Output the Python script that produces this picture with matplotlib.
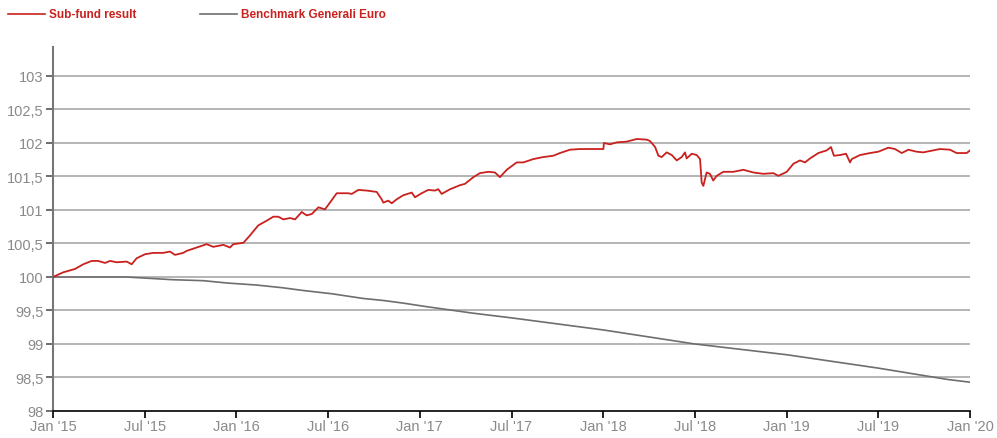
import matplotlib
matplotlib.use('Agg')
import matplotlib.pyplot as plt
from matplotlib.lines import Line2D

# time in decimal years
fund_t = [2015.000, 2015.056, 2015.120, 2015.165, 2015.211, 2015.245, 2015.284, 2015.311,
          2015.347, 2015.402, 2015.429, 2015.456, 2015.502, 2015.547, 2015.601, 2015.638,
          2015.665, 2015.710, 2015.729, 2015.784, 2015.838, 2015.874, 2015.929, 2015.965,
          2015.983, 2016.038, 2016.074, 2016.119, 2016.165, 2016.201, 2016.228, 2016.256,
          2016.292, 2016.320, 2016.356, 2016.383, 2016.411, 2016.447, 2016.483, 2016.510,
          2016.547, 2016.583, 2016.610, 2016.629, 2016.665, 2016.710, 2016.765, 2016.792,
          2016.801, 2016.828, 2016.847, 2016.874, 2016.910, 2016.956, 2016.974, 2017.010,
          2017.046, 2017.083, 2017.101, 2017.119, 2017.165, 2017.219, 2017.246, 2017.292,
          2017.328, 2017.374, 2017.410, 2017.437, 2017.474, 2017.528, 2017.564, 2017.619,
          2017.673, 2017.728, 2017.764, 2017.819, 2017.873, 2018.001, 2018.004, 2018.037,
          2018.074, 2018.128, 2018.183, 2018.237, 2018.255, 2018.283, 2018.301, 2018.319,
          2018.346, 2018.374, 2018.401, 2018.428, 2018.446, 2018.455, 2018.483, 2018.510,
          2018.528, 2018.537, 2018.546, 2018.564, 2018.582, 2018.600, 2018.619, 2018.655,
          2018.710, 2018.764, 2018.819, 2018.873, 2018.928, 2018.955, 2019.001, 2019.037,
          2019.073, 2019.100, 2019.128, 2019.173, 2019.219, 2019.242, 2019.258, 2019.291,
          2019.324, 2019.346, 2019.355, 2019.400, 2019.455, 2019.500, 2019.555, 2019.591,
          2019.628, 2019.664, 2019.709, 2019.745, 2019.782, 2019.836, 2019.891, 2019.927,
          2019.982, 2020.000]
fund_v = [100.00, 100.07, 100.12, 100.19, 100.24, 100.24, 100.21, 100.24,
          100.22, 100.23, 100.19, 100.28, 100.34, 100.36, 100.36, 100.38,
          100.33, 100.36, 100.39, 100.44, 100.49, 100.45, 100.48, 100.44,
          100.49, 100.51, 100.62, 100.77, 100.84, 100.90, 100.90, 100.86,
          100.88, 100.86, 100.97, 100.92, 100.94, 101.04, 101.01, 101.11,
          101.25, 101.25, 101.25, 101.24, 101.30, 101.29, 101.27, 101.16,
          101.11, 101.14, 101.10, 101.16, 101.22, 101.26, 101.19, 101.25,
          101.30, 101.29, 101.31, 101.24, 101.31, 101.37, 101.39, 101.49,
          101.55, 101.57, 101.56, 101.49, 101.60, 101.71, 101.71, 101.76,
          101.79, 101.81, 101.85, 101.90, 101.91, 101.91, 102.00, 101.98,
          102.01, 102.02, 102.06, 102.05, 102.03, 101.94, 101.81, 101.79,
          101.86, 101.82, 101.74, 101.79, 101.86, 101.77, 101.84, 101.82,
          101.76, 101.41, 101.36, 101.56, 101.54, 101.44, 101.51, 101.57,
          101.57, 101.60, 101.56, 101.54, 101.55, 101.51, 101.57, 101.69,
          101.74, 101.71, 101.77, 101.85, 101.89, 101.94, 101.81, 101.82,
          101.84, 101.71, 101.76, 101.82, 101.85, 101.87, 101.93, 101.91,
          101.85, 101.90, 101.87, 101.86, 101.88, 101.91, 101.90, 101.85,
          101.85, 101.89]

bench_t = [2015.000, 2015.400, 2015.650, 2015.820, 2015.950, 2016.110, 2016.250, 2016.360,
           2016.520, 2016.690, 2016.800, 2016.910, 2017.030, 2017.160, 2017.290, 2017.500,
           2018.000, 2018.500, 2019.000, 2019.500, 2019.880, 2020.000]
bench_v = [100.00, 100.00, 99.96, 99.945, 99.91, 99.88, 99.84, 99.80,
           99.75, 99.68, 99.65, 99.61, 99.56, 99.51, 99.46, 99.39,
           99.21, 99.00, 98.84, 98.64, 98.47, 98.43]

xticks = [2015, 2015.5, 2016, 2016.5, 2017, 2017.5, 2018, 2018.5, 2019, 2019.5, 2020]
xlabels = ["Jan '15", "Jul '15", "Jan '16", "Jul '16", "Jan '17", "Jul '17",
           "Jan '18", "Jul '18", "Jan '19", "Jul '19", "Jan '20"]
yticks = [98, 98.5, 99, 99.5, 100, 100.5, 101, 101.5, 102, 102.5, 103]
ylabels = ['98', '98,5', '99', '99,5', '100', '100,5', '101', '101,5', '102', '102,5', '103']

RED = '#c9211e'
GREY = '#6e6e6e'
LEG_FONT = ['Liberation Sans Narrow', 'Liberation Sans', 'DejaVu Sans']

fig = plt.figure(figsize=(9.97, 4.39), dpi=100)
ax = fig.add_axes([53 / 997, 1 - 412 / 439, 917 / 997, 364 / 439])

for y in yticks[1:]:
    ax.axhline(y, color='#a8a8a8', lw=1.2, zorder=1)

ax.plot(bench_t, bench_v, color=GREY, lw=1.2, zorder=2)
ax.plot(fund_t, fund_v, color=RED, lw=1.3, zorder=3)

ax.set_xlim(2015, 2020)
ax.set_ylim(98, 98 + 364 / 67)
ax.set_xticks(xticks)
ax.set_xticklabels(xlabels)
ax.set_yticks(yticks)
ax.set_yticklabels(ylabels)

for s in ['top', 'right']:
    ax.spines[s].set_visible(False)
ax.spines['left'].set_color('#777777')
ax.spines['left'].set_linewidth(1.5)
ax.spines['bottom'].set_color('black')
ax.spines['bottom'].set_linewidth(1.2)

ax.tick_params(axis='y', length=5, width=1.2, color='#555555', labelcolor='#8a8a8a',
               labelsize=10.5, pad=2)
ax.tick_params(axis='x', length=5, width=1.2, color='black', labelcolor='#8a8a8a',
               labelsize=10.5, pad=1)
for lab in ax.get_xticklabels() + ax.get_yticklabels():
    lab.set_family(['Liberation Sans', 'DejaVu Sans'])

# legend drawn by hand at the top
fig.add_artist(Line2D([8 / 997, 45 / 997], [1 - 15 / 439] * 2, color=RED, lw=1.2))
fig.text(49 / 997, 1 - 15 / 439, 'Sub-fund result', color=RED, fontsize=8.5,
         fontweight='bold', va='center', family=LEG_FONT)
fig.add_artist(Line2D([200 / 997, 237 / 997], [1 - 15 / 439] * 2, color=GREY, lw=1.2))
fig.text(241 / 997, 1 - 15 / 439, 'Benchmark Generali Euro', color=RED, fontsize=8.5,
         fontweight='bold', va='center', family=LEG_FONT)

fig.savefig('out.png', dpi=100)
